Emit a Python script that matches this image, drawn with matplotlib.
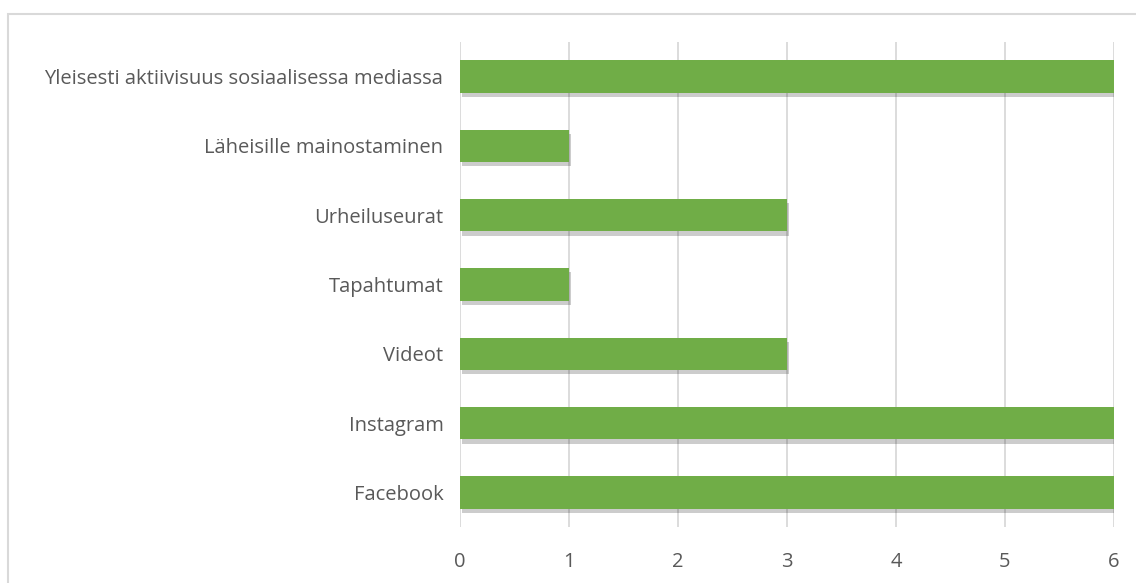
import matplotlib.pyplot as plt
import matplotlib.patheffects as pe
from matplotlib.patches import Rectangle

categories = ['Facebook', 'Instagram', 'Videot', 'Tapahtumat', 'Urheiluseurat',
              'Läheisille mainostaminen', 'Yleisesti aktiivisuus sosiaalisessa mediassa']
values = [6, 6, 3, 1, 3, 1, 6]
xticks = [0, 1, 2, 3, 4, 5, 6]

plt.rcParams['font.family'] = ['Open Sans', 'DejaVu Sans']

fig = plt.figure(figsize=(11.36, 5.83), dpi=100)
ax = fig.add_axes([0.405, 0.096, 0.5755, 0.832])

# outer border (top and left only visible)
fig.patches.append(Rectangle((8 / 1136, -0.1), 1.2, 1 - 14 / 583 + 0.1,
                             transform=fig.transFigure, fill=False,
                             edgecolor='#d9d9d9', linewidth=1.5))

ax.barh(range(len(values)), values, height=0.47, color='#70AD47', zorder=3,
        path_effects=[pe.SimplePatchShadow(offset=(1.5, -3), shadow_rgbFace='#000000', alpha=0.2),
                      pe.Normal()])

ax.set_xlim(0, 6)
ax.set_ylim(-0.5, len(values) - 0.5)
ax.set_xticks(xticks)
ax.set_yticks(range(len(values)))
ax.set_yticklabels(categories)
ax.grid(axis='x', color='#d9d9d9', linewidth=1.3, zorder=0)
for s in ax.spines.values():
    s.set_visible(False)
ax.tick_params(axis='both', length=0, labelsize=14.5, labelcolor='#595959')
ax.tick_params(axis='x', pad=18)
ax.tick_params(axis='y', pad=12)

fig.savefig('out.png', dpi=100)
